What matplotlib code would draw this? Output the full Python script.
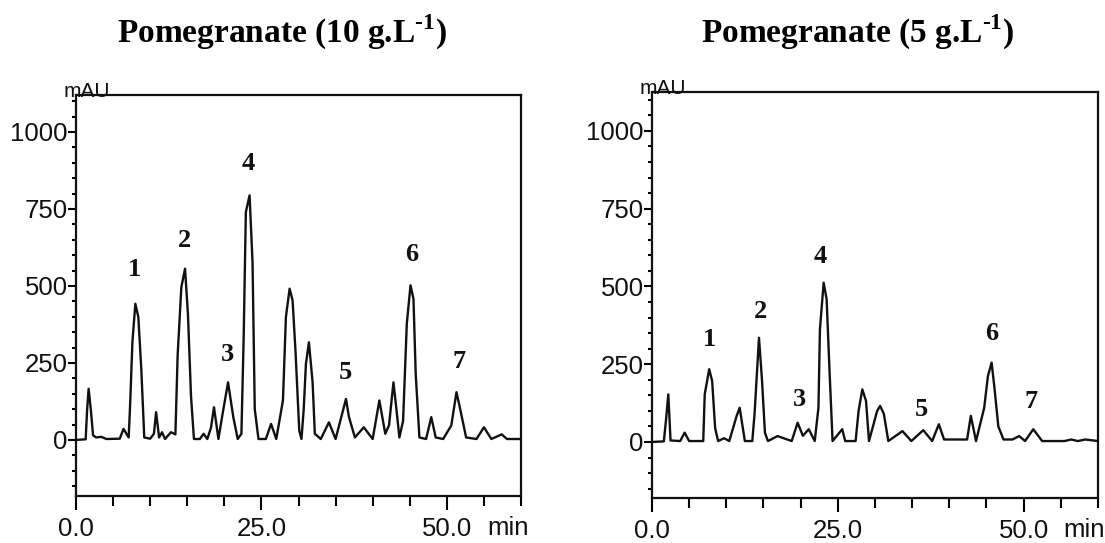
"""
HPLC chromatograms of pomegranate extract at two concentrations
"""
import matplotlib
matplotlib.use("Agg")
import matplotlib.pyplot as plt
from matplotlib.ticker import MultipleLocator, FixedLocator

plt.rcParams['mathtext.fontset'] = 'custom'
plt.rcParams['mathtext.rm'] = 'Liberation Serif:bold'
plt.rcParams['mathtext.bf'] = 'Liberation Serif:bold'

# trace (time in min, signal in mAU)
time_10 = [0.0, 1.3, 1.5, 1.7, 2.0, 2.3, 2.7, 3.4, 4.1, 5.9, 6.4, 7.1, 7.3, 7.6, 8.0, 8.4,
           8.8, 9.2, 10.0, 10.5, 10.8, 11.2, 11.6, 12.0, 12.8, 13.4, 13.7, 14.2, 14.7,
           15.1, 15.5, 15.9, 16.7, 17.2, 17.7, 18.2, 18.6, 19.2, 19.8, 20.5, 20.8, 21.2,
           21.8, 22.3, 22.6, 22.9, 23.4, 23.8, 24.1, 24.6, 25.6, 26.3, 27.0, 27.9, 28.3, 28.8,
           29.2, 29.6, 30.1, 30.4, 30.7, 31.0, 31.4, 31.9, 32.2, 33.0, 34.1, 35.0, 36.4,
           36.8, 37.6, 38.8, 40.0, 40.9, 41.7, 42.2, 42.8, 43.2, 43.6, 44.1, 44.6, 45.1,
           45.5, 45.8, 46.3, 47.2, 47.9, 48.5, 49.5, 50.6, 51.3, 51.8, 52.6, 54.0, 55.0,
           56.0, 57.4, 58.1, 60.0]
signal_10 = [0, 2, 100, 166, 97, 15, 8, 10, 3, 4, 36, 8, 117, 317, 442, 399,
             231, 8, 4, 20, 90, 8, 25, 3, 25, 18, 274, 496, 556,
             404, 144, 3, 3, 20, 3, 40, 106, 3, 90, 187, 139, 75,
             3, 20, 328, 740, 794, 577, 100, 3, 3, 52, 3, 128, 399, 491,
             453, 285, 30, 3, 100, 247, 317, 187, 20, 3, 57, 3, 133,
             75, 8, 41, 3, 128, 20, 47, 187, 100, 8, 62, 377, 502,
             458, 215, 8, 3, 74, 8, 3, 47, 155, 100, 8, 3, 41,
             3, 18, 3, 3]

# trace
time_5 = [0.0, 1.6, 1.9, 2.2, 2.5, 3.8, 4.4, 5.0, 6.9, 7.1, 7.7, 8.1, 8.5, 8.9, 9.7, 10.4,
          11.4, 11.8, 12.5, 13.5, 13.8, 14.4, 14.8, 15.2, 15.6, 16.9, 18.8, 19.6, 20.3,
          21.1, 21.9, 22.4, 22.6, 23.1, 23.5, 23.9, 24.3, 25.6, 26.0, 27.4, 27.8, 28.3,
          28.8, 29.2, 30.3, 30.7, 31.2, 31.8, 33.7, 34.9, 36.5, 37.7, 38.6, 39.3, 42.4,
          42.9, 43.6, 44.7, 45.2, 45.7, 46.1, 46.6, 47.3, 48.5, 49.4, 50.2, 51.3, 52.5,
          55.5, 56.4, 57.3, 58.3, 60.0]
signal_5 = [0, 2, 73, 153, 5, 3, 30, 3, 3, 153, 234, 196, 45, 3, 12, 3,
            84, 110, 3, 3, 89, 335, 201, 30, 3, 19, 3, 62, 20,
            41, 3, 110, 362, 512, 459, 223, 3, 41, 3, 3, 100, 169,
            132, 3, 100, 116, 90, 3, 35, 3, 38, 3, 57, 8, 8,
            84, 3, 110, 212, 255, 169, 50, 8, 8, 19, 3, 41, 3,
            3, 8, 3, 8, 3]

peak_names = ["1", "2", "3", "4", "5", "6", "7"]
label_x_10 = [7.9, 14.6, 20.4, 23.2, 36.3, 45.2, 51.7]
label_y_10 = [552, 649, 276, 899, 218, 601, 253]
label_x_5 = [7.7, 14.6, 19.8, 22.7, 36.2, 45.7, 51.0]
label_y_5 = [328, 418, 135, 595, 103, 350, 129]

titles = [r"Pomegranate (10 g.L$^{\text{-}1}$)", r"Pomegranate (5 g.L$^{\text{-}1}$)"]
ytick_values = [0, 250, 500, 750, 1000]
xtick_values = [0, 25, 50]
xtick_labels = ["0.0", "25.0", "50.0"]


def chromatogram(ax, t, s, lx, ly, ylim):
    """Draw one chromatogram panel"""
    ax.plot(t, s, color="#111111", linewidth=1.7)
    ax.set_xlim(0, 60)
    ax.set_ylim(*ylim)
    for sp in ax.spines.values():
        sp.set_linewidth(1.6)
        sp.set_color("#111111")
    ax.yaxis.set_major_locator(FixedLocator(ytick_values))
    ax.yaxis.set_minor_locator(MultipleLocator(50))
    ax.xaxis.set_major_locator(FixedLocator(xtick_values))
    ax.xaxis.set_minor_locator(MultipleLocator(5))
    ax.set_xticklabels(xtick_labels)
    ax.set_yticklabels([str(v) for v in ytick_values])
    ax.tick_params(axis='y', which='major', direction='out', length=6, width=1.5, pad=0)
    ax.tick_params(axis='y', which='minor', direction='out', length=3, width=1.5)
    ax.tick_params(axis='x', which='major', direction='out', length=10, width=1.5, pad=5)
    ax.tick_params(axis='x', which='minor', direction='out', length=7, width=1.5)
    for lab in ax.get_xticklabels() + ax.get_yticklabels():
        lab.set_fontfamily('Liberation Sans')
        lab.set_fontsize(18.5)
        lab.set_color("#111111")
    ax.text(58.2, -0.05, "min", transform=ax.get_xaxis_transform(), ha='center', va='top',
            fontfamily='Liberation Sans', fontsize=18.5, color="#111111")
    ax.text(-0.027, 0.985, "mAU", transform=ax.transAxes, ha='left', va='bottom',
            fontfamily='Liberation Sans', fontsize=15, color="#111111")
    for name, x, y in zip(peak_names, lx, ly):
        ax.text(x, y, name, ha='center', va='center', fontfamily='Liberation Serif',
                fontweight='bold', fontsize=19, color="#111111")


def main():
    fig = plt.figure(figsize=(11.05, 5.43), dpi=100)
    ax1 = fig.add_axes([0.0688, 0.0866, 0.4027, 0.7385])
    ax2 = fig.add_axes([0.5900, 0.0829, 0.4036, 0.7477])
    chromatogram(ax1, time_10, signal_10, label_x_10, label_y_10, (-182, 1120))
    chromatogram(ax2, time_5, signal_5, label_x_5, label_y_5, (-180, 1125))
    fig.text(0.255, 0.922, titles[0], ha='center', va='baseline', fontfamily='Liberation Serif',
             fontweight='bold', fontsize=24)
    fig.text(0.776, 0.922, titles[1], ha='center', va='baseline', fontfamily='Liberation Serif',
             fontweight='bold', fontsize=24)
    fig.savefig("out.png", dpi=100)


main()
